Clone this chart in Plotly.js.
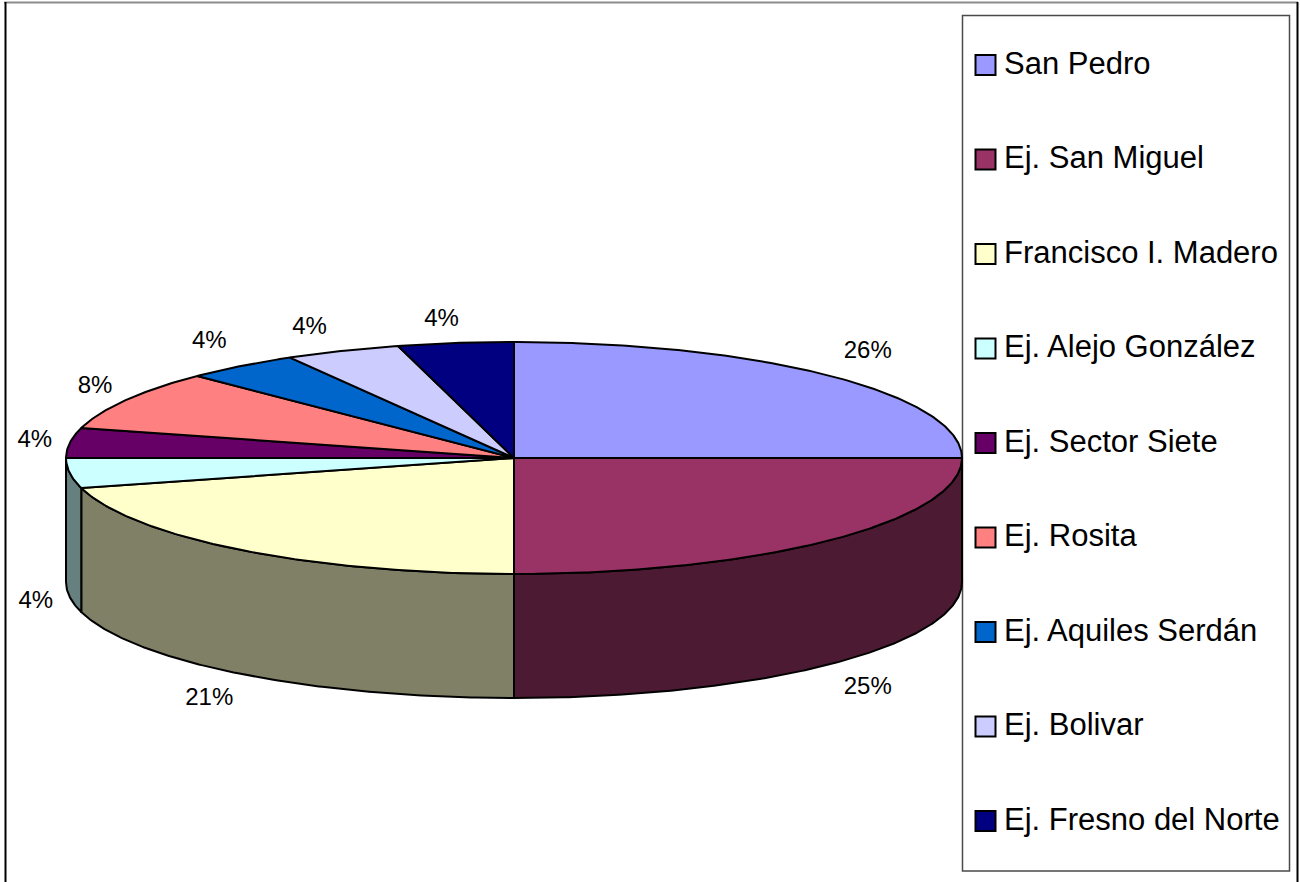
<!DOCTYPE html>
<html>
<head>
<meta charset="utf-8">
<script src="https://cdn.plot.ly/plotly-3.0.1.min.js"></script>
<style>html,body{margin:0;padding:0;background:#fff;overflow:hidden}#chart{width:1300px;height:882px}</style>
</head>
<body>
<div id="chart"></div>
<script>
// ---- data ----
const categories = ["San Pedro","Ej. San Miguel","Francisco I. Madero","Ej. Alejo González","Ej. Sector Siete","Ej. Rosita","Ej. Aquiles Serdán","Ej. Bolivar","Ej. Fresno del Norte"];
const sliceValues = [6,6,5,1,1,2,1,1,1];
const percentLabels = ["26%","25%","21%","4%","4%","8%","4%","4%","4%"];
const sliceColors = ["#9999FF","#993366","#FFFFCC","#CCFFFF","#660066","#FF8080","#0066CC","#CCCCFF","#000080"];

// ---- geometry and style (pixel space of the page) ----
const CX = 514, CY = 458, RX = 448, RY = 116, DEPTH = 124;
const labelNudge = [[37,-24],[37,24],[-32,25],[-34,5],[-35,-2],[-31,-13],[-32,-24],[-33,-23],[-14,-23]];
const LEG_X = 985.5, LEG_TEXT_X = 1004, LEG_Y0 = 65, LEG_STEP = 94.5, LEG_TEXT_DY = 1;
const FONT = "Liberation Sans, Arial, sans-serif";

const total = sliceValues.reduce((a,b)=>a+b,0);
const px = t => CX + RX*Math.sin(t);
const py = (t,d=0) => CY - RY*Math.cos(t) + d;
function arc(a,b){ const n=Math.max(2,Math.ceil(Math.abs(b-a)/(Math.PI/360))); const r=[]; for(let i=0;i<=n;i++) r.push(a+(b-a)*i/n); return r; }
function darken(hex){ const v=parseInt(hex.slice(1),16); const c=s=>Math.round(((v>>s)&255)/2); return `rgb(${c(16)},${c(8)},${c(0)})`; }

const spans=[]; let acc=0;
sliceValues.forEach(v=>{ const a=acc/total*2*Math.PI; acc+=v; spans.push([a,acc/total*2*Math.PI]); });

const traces=[];
const base={type:"scatter",mode:"lines",fill:"toself",hoverinfo:"skip",showlegend:false,line:{color:"#000",width:2,shape:"linear"}};

// side walls (front half only)
spans.forEach((s,i)=>{
  const a=Math.max(s[0],Math.PI/2), b=Math.min(s[1],3*Math.PI/2);
  if(b<=a) return;
  const t=arc(a,b), rev=t.slice().reverse();
  traces.push(Object.assign({},base,{
    name:categories[i]+" side",
    x:t.map(px).concat(rev.map(px),[px(a)]),
    y:t.map(v=>py(v)).concat(rev.map(v=>py(v,DEPTH)),[py(a)]),
    fillcolor:darken(sliceColors[i])
  }));
});
// top faces
spans.forEach((s,i)=>{
  const t=arc(s[0],s[1]);
  traces.push(Object.assign({},base,{
    name:categories[i],
    x:[CX].concat(t.map(px),[CX]),
    y:[CY].concat(t.map(v=>py(v)),[CY]),
    fillcolor:sliceColors[i]
  }));
});
// percent labels
traces.push({type:"scatter",mode:"text",hoverinfo:"skip",showlegend:false,
  x:spans.map((s,i)=>px((s[0]+s[1])/2)+labelNudge[i][0]),
  y:spans.map((s,i)=>{const m=(s[0]+s[1])/2; const front=m>Math.PI/2&&m<3*Math.PI/2; return py(m,front?DEPTH:0)+labelNudge[i][1];}),
  text:percentLabels,textposition:"middle center",
  textfont:{family:FONT,size:24,color:"#000"}});
// legend keys + text
const legY=categories.map((c,i)=>LEG_Y0+i*LEG_STEP);
traces.push({type:"scatter",mode:"markers",hoverinfo:"skip",showlegend:false,
  x:categories.map(()=>LEG_X),y:legY,
  marker:{symbol:"square",size:20,color:sliceColors,line:{color:"#000",width:2}}});
traces.push({type:"scatter",mode:"text",hoverinfo:"skip",showlegend:false,
  x:categories.map(()=>LEG_TEXT_X),y:legY.map(v=>v+LEG_TEXT_DY),text:categories,textposition:"middle right",
  textfont:{family:FONT,size:31,color:"#000"}});

const hid={visible:false,fixedrange:true};
const layout={
  width:1300,height:882,margin:{l:0,r:0,t:0,b:0},
  paper_bgcolor:"#fff",plot_bgcolor:"#fff",showlegend:false,
  xaxis:Object.assign({range:[0,1300],domain:[0,1]},hid),
  yaxis:Object.assign({range:[882,0],domain:[0,1]},hid),
  shapes:[
    {type:"line",layer:"below",xref:"x",yref:"y",x0:4,x1:1298,y0:2.5,y1:2.5,line:{color:"#8c8c8c",width:2}},
    {type:"line",layer:"below",xref:"x",yref:"y",x0:5.5,x1:5.5,y0:2,y1:882,line:{color:"#000",width:2}},
    {type:"line",layer:"below",xref:"x",yref:"y",x0:1297.5,x1:1297.5,y0:2,y1:882,line:{color:"#000",width:2}},
    {type:"rect",layer:"below",xref:"x",yref:"y",x0:962.5,x1:1289.5,y0:15.5,y1:871,fillcolor:"#fff",line:{color:"#4a4a4a",width:1.5}}
  ]
};
Plotly.newPlot("chart",traces,layout,{displayModeBar:false,staticPlot:true});
</script>
</body>
</html>
